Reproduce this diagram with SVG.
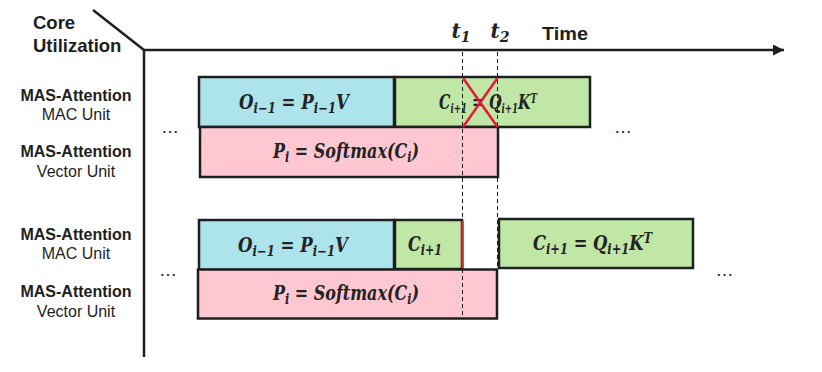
<svg xmlns="http://www.w3.org/2000/svg" width="822" height="372" viewBox="0 0 822 372">
<style>
.lb{font-family:"Liberation Sans",Arial,sans-serif;font-size:16px;font-weight:bold;fill:#1e1e1e;text-anchor:middle}
.lr{font-family:"Liberation Sans",Arial,sans-serif;font-size:16px;fill:#1e1e1e;text-anchor:middle}
.hd{font-family:"Liberation Sans",Arial,sans-serif;font-size:18.5px;font-weight:bold;fill:#1e1e1e}
.m{font-family:"DejaVu Serif",serif;font-weight:bold;font-style:italic;font-size:20px;fill:#222;text-anchor:middle}
.s{font-size:14px}
.dots{font-family:"Liberation Sans",Arial,sans-serif;font-size:18px;fill:#222;text-anchor:middle}
.box{stroke:#1e1e1e;stroke-width:2.5}
.blue{fill:#ade3eb}.green{fill:#c0e7a6}.pink{fill:#ffc7d2}
.dash{stroke:#1e1e1e;stroke-width:1;stroke-dasharray:4 3;fill:none}
.red{stroke:#e8173c;stroke-width:2.5;fill:none}
.axis{stroke:#1e1e1e;stroke-width:2.5;fill:none}
</style>
<defs>
<marker id="ah" markerWidth="11" markerHeight="11" refX="11" refY="5.5" orient="auto" markerUnits="userSpaceOnUse"><path d="M0,0 L11,5.5 L0,11 Z" fill="#1e1e1e"/></marker>
</defs>
<g id="axes">
<line class="axis" x1="93" y1="10" x2="144" y2="50"/>
<line class="axis" x1="144" y1="50" x2="784" y2="50" marker-end="url(#ah)"/>
<line class="axis" x1="144" y1="50" x2="144" y2="357"/>
<text class="hd" x="33" y="29">Core</text>
<text class="hd" x="33" y="52">Utilization</text>
<text class="hd" x="542" y="40" font-size="20" textLength="46" lengthAdjust="spacingAndGlyphs">Time</text>
<text class="m" x="461" y="38" font-size="19">t<tspan class="s" dy="4">1</tspan></text>
<text class="m" x="500" y="38" font-size="19">t<tspan class="s" dy="4">2</tspan></text>
</g>
<g id="labels">
<text class="lb" x="76" y="101">MAS-Attention</text>
<text class="lr" x="76" y="120">MAC Unit</text>
<text class="lb" x="76" y="157">MAS-Attention</text>
<text class="lr" x="76" y="176.5">Vector Unit</text>
<text class="lb" x="76" y="240">MAS-Attention</text>
<text class="lr" x="76" y="259">MAC Unit</text>
<text class="lb" x="76" y="297">MAS-Attention</text>
<text class="lr" x="76" y="316.5">Vector Unit</text>
</g>
<g id="top-mac-o">
<rect class="box blue" x="199" y="77" width="195" height="50"/>
<text class="m" x="294" y="108.5" textLength="110" lengthAdjust="spacingAndGlyphs">O<tspan class="s" dy="4">i−1</tspan><tspan dy="-4"> = P</tspan><tspan class="s" dy="4">i−1</tspan><tspan dy="-4">V</tspan></text>
</g>
<g id="top-mac-c">
<rect class="box green" x="395" y="77" width="195" height="50"/>
<text class="m" x="488" y="109" font-size="16.5" textLength="98" lengthAdjust="spacingAndGlyphs">C<tspan font-size="12" dy="3.5">i+1</tspan><tspan dy="-3.5"> = Q</tspan><tspan font-size="12" dy="3.5">i+1</tspan><tspan dy="-3.5">K</tspan><tspan font-size="12" dy="-6.5">T</tspan></text>
</g>
<g id="top-vec-p">
<rect class="box pink" x="200" y="127" width="298" height="50"/>
<text class="m" x="346" y="158" textLength="146" lengthAdjust="spacingAndGlyphs">P<tspan class="s" dy="4">i</tspan><tspan dy="-4"> = Softmax(C</tspan><tspan class="s" dy="4">i</tspan><tspan dy="-4">)</tspan></text>
</g>
<g id="bot-mac-o">
<rect class="box blue" x="199" y="220" width="195" height="50"/>
<text class="m" x="293" y="252" textLength="110" lengthAdjust="spacingAndGlyphs">O<tspan class="s" dy="4">i−1</tspan><tspan dy="-4"> = P</tspan><tspan class="s" dy="4">i−1</tspan><tspan dy="-4">V</tspan></text>
</g>
<g id="bot-mac-c-part">
<rect class="box green" x="395" y="220" width="67" height="49"/>
<text class="m" x="425" y="250.5" textLength="34" lengthAdjust="spacingAndGlyphs">C<tspan class="s" dy="4">i+1</tspan></text>
</g>
<g id="bot-mac-c">
<rect class="box green" x="499" y="219" width="194" height="49"/>
<text class="m" x="592.5" y="250" textLength="119" lengthAdjust="spacingAndGlyphs">C<tspan class="s" dy="4">i+1</tspan><tspan dy="-4"> = Q</tspan><tspan class="s" dy="4">i+1</tspan><tspan dy="-4">K</tspan><tspan class="s" dy="-7.5">T</tspan></text>
</g>
<g id="bot-vec-p">
<rect class="box pink" x="198" y="269.5" width="299" height="49"/>
<text class="m" x="346" y="300" textLength="146" lengthAdjust="spacingAndGlyphs">P<tspan class="s" dy="4">i</tspan><tspan dy="-4"> = Softmax(C</tspan><tspan class="s" dy="4">i</tspan><tspan dy="-4">)</tspan></text>
</g>
<g id="ellipses">
<text class="dots" x="170" y="133">…</text>
<text class="dots" x="623" y="133">…</text>
<text class="dots" x="168" y="276">…</text>
<text class="dots" x="724.5" y="276">…</text>
</g>
<g id="connectors">
<line class="dash" x1="462.5" y1="52" x2="462.5" y2="318"/>
<line class="dash" x1="497.5" y1="52" x2="497.5" y2="318"/>
<line class="red" x1="463" y1="78" x2="497.5" y2="127"/>
<line class="red" x1="497.5" y1="78" x2="463" y2="127"/>
<line class="red" x1="462.5" y1="221" x2="462.5" y2="268"/>
</g>
</svg>
